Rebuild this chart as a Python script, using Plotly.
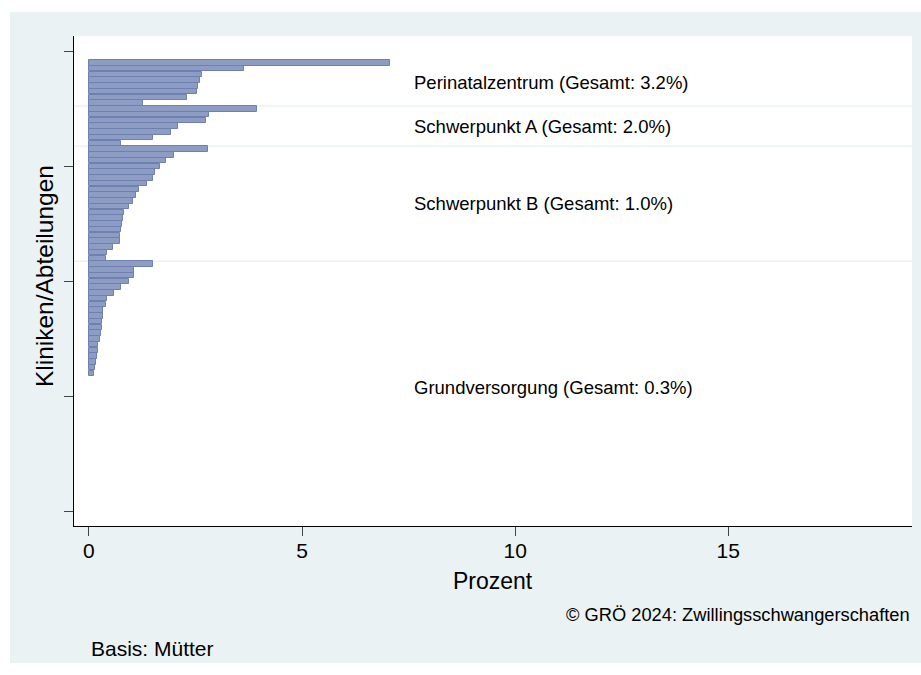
import plotly.graph_objects as go

# Anteile je Klinik (Prozent), nach Versorgungsstufe, absteigend sortiert
gruppen = ["Perinatalzentrum", "Schwerpunkt A", "Schwerpunkt B", "Grundversorgung"]
gesamt = [3.2, 2.0, 1.0, 0.3]

perinatal = [7.06, 3.64, 2.66, 2.60, 2.56, 2.54, 2.29, 1.27]
schwerpunkt_a = [3.95, 2.81, 2.75, 2.08, 1.93, 1.50, 0.76]
schwerpunkt_b = [2.80, 2.00, 1.80, 1.66, 1.55, 1.50, 1.37, 1.17, 1.11, 1.03,
                 0.94, 0.82, 0.79, 0.77, 0.75, 0.72, 0.72, 0.56, 0.42, 0.39]
grundversorgung = [1.51, 1.06, 1.06, 0.94, 0.76, 0.59, 0.43, 0.40, 0.33, 0.32,
                   0.31, 0.31, 0.29, 0.26, 0.22, 0.21, 0.19, 0.17, 0.15, 0.11,
                   0, 0, 0, 0, 0, 0, 0, 0, 0, 0, 0, 0,
                   0, 0, 0, 0, 0, 0, 0, 0, 0, 0, 0, 0]

x_ticks = [0, 5, 10, 15]
y_ticks = [0, 20, 40, 60, 80]

BG = "rgb(234,242,243)"
BAR = "rgb(141,156,195)"
BAR_LINE = "rgb(110,128,176)"
FONT = "Liberation Sans, Arial, sans-serif"

werte = []
rang = []
grenzen = []
mitten = []
pos = 2
for serie in [perinatal, schwerpunkt_a, schwerpunkt_b, grundversorgung]:
  start = pos
  for v in serie:
    werte.append(v)
    rang.append(pos)
    pos += 1
  mitten.append((start + pos - 1) / 2)
  grenzen.append(pos - 0.5)

fig = go.Figure()
fig.add_trace(go.Bar(
    x=werte, y=rang, orientation="h", width=0.95,
    marker=dict(color=BAR, line=dict(color=BAR_LINE, width=[1 if v > 0 else 0 for v in werte])),
    hoverinfo="x",
))

# Trennlinien zwischen den Versorgungsstufen
for g in grenzen[:-1]:
  fig.add_shape(type="line", xref="paper", yref="y", x0=0, x1=1, y0=g, y1=g,
                line=dict(color=BG, width=1.5), layer="below")

for name, tot, m in zip(gruppen, gesamt, mitten):
  fig.add_annotation(x=7.57, y=m, xref="x", yref="y", xanchor="left", yanchor="middle",
                     text="{} (Gesamt: {:.1f}%)".format(name, tot), showarrow=False,
                     font=dict(size=18.5, color="black"))

fig.add_annotation(x=0.5, y=-0.112, xref="paper", yref="paper", xanchor="center", yanchor="middle",
                   text="Prozent", showarrow=False, font=dict(size=23, color="black"))
fig.add_annotation(x=-0.0358, y=0.51, xref="paper", yref="paper", xanchor="center", yanchor="middle",
                   text="Kliniken/Abteilungen", textangle=-90, showarrow=False,
                   font=dict(size=24.5, color="black"))
fig.add_annotation(x=1.0, y=-0.1816, xref="paper", yref="paper", xanchor="right", yanchor="middle",
                   text="© GRÖ 2024: Zwillingsschwangerschaften", showarrow=False,
                   font=dict(size=18.3, color="black"))
fig.add_annotation(x=0.018, y=-0.249, xref="paper", yref="paper", xanchor="left", yanchor="middle",
                   text="Basis: Mütter", showarrow=False, font=dict(size=21, color="black"))

# weisser Rand um den grauen Grafikbereich
for x0, x1, y0, y1 in [(-0.2, -0.0764, -0.4, 1.2), (-0.2, 1.2, 1.049, 1.2), (-0.2, 1.2, -0.4, -0.2796)]:
  fig.add_shape(type="rect", xref="paper", yref="paper", x0=x0, x1=x1, y0=y0, y1=y1,
                fillcolor="white", line=dict(width=0), layer="above")

fig.update_xaxes(
    range=[-0.35, 19.31], tickvals=x_ticks, ticks="outside", ticklen=9, tickwidth=1,
    tickcolor="#444", showline=True, linecolor="black", linewidth=1.3,
    showgrid=False, zeroline=False, tickfont=dict(size=21, color="black"),
    ticklabelstandoff=-3,
)
fig.update_yaxes(
    range=[82.56, -2.66], tickvals=y_ticks, ticks="outside", ticklen=9, tickwidth=1,
    tickcolor="#444", showticklabels=False, showline=True, linecolor="black", linewidth=1.3,
    showgrid=False, zeroline=False,
)
fig.update_layout(
    width=921, height=675,
    margin=dict(l=74, r=9, t=36, b=149),
    paper_bgcolor=BG, plot_bgcolor="white",
    font=dict(family=FONT, color="black"),
    showlegend=False, bargap=0,
)
fig.write_html("out.html", config={"displayModeBar": False},
               post_script="document.body.style.margin='0';")
